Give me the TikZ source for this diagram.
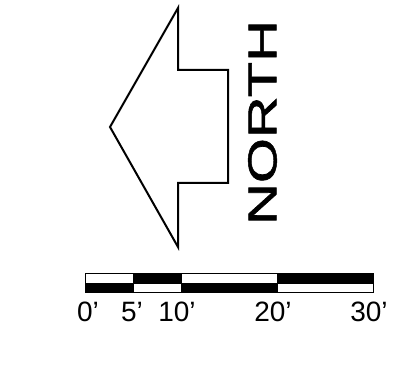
\documentclass[tikz,border=0pt]{standalone}
\usepackage{fontspec}
\setmainfont{Liberation Sans}
\newfontfamily\northfont[FakeBold=1.2]{Liberation Sans}
\usepackage{xcolor}
\definecolor{ink900}{HTML}{000000}
\definecolor{paper}{HTML}{FFFFFF}
\usetikzlibrary{positioning, calc}

\begin{document}
\begin{tikzpicture}[
    x=1pt, y=-1pt,
    draw=ink900, text=ink900,
    outline/.style={draw=ink900, line width=2pt, line join=miter, fill=paper},
    barwhite/.style={draw=ink900, line width=0.8pt, fill=paper},
    barblack/.style={draw=ink900, line width=0.8pt, fill=ink900},
    ticklabel/.style={anchor=north, inner sep=0pt, font=\fontsize{28}{30}\selectfont},
]
\useasboundingbox (0,0) rectangle (413,382);

% ── North arrow ──
\draw[outline] (110,127) -- (178,8) -- (178,70) -- (228,70) -- (228,183)
    -- (178,183) -- (178,247) -- cycle;
\node[rotate=90, inner sep=0pt, font=\northfont\fontsize{40.5}{42}\selectfont]
    (north) at (262.5,122.5) {\scalebox{1.43}[1]{NORTH}};

% ── Scale bar ──
\coordinate (s0) at (85,273);
\coordinate (s5) at (133,273);
\coordinate (s10) at (181,273);
\coordinate (s20) at (277,273);
\coordinate (s30) at (373,273);

% upper row
\draw[barwhite] (s0) rectangle ($(s5)+(0,10)$);
\draw[barblack] (s5) rectangle ($(s10)+(0,10)$);
\draw[barwhite] (s10) rectangle ($(s20)+(0,10)$);
\draw[barblack] (s20) rectangle ($(s30)+(0,10)$);
% lower row
\draw[barblack] ($(s0)+(0,10)$) rectangle ($(s5)+(0,19)$);
\draw[barwhite] ($(s5)+(0,10)$) rectangle ($(s10)+(0,19)$);
\draw[barblack] ($(s10)+(0,10)$) rectangle ($(s20)+(0,19)$);
\draw[barwhite] ($(s20)+(0,10)$) rectangle ($(s30)+(0,19)$);

% ── Distance labels ──
\node[ticklabel] (l0) at (88,302) {0'};
\node[ticklabel] (l5) at (132,302) {5'};
\node[ticklabel] (l10) at (177,302) {10'};
\node[ticklabel] (l20) at (273,302) {20'};
\node[ticklabel] (l30) at (369,302) {30'};
\end{tikzpicture}
\end{document}
